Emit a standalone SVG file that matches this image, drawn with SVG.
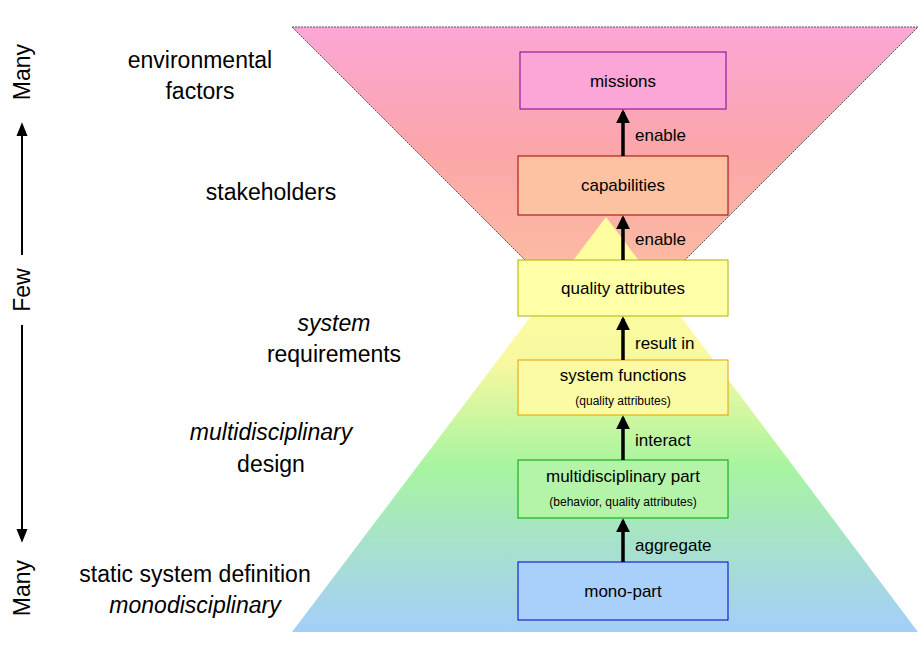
<svg xmlns="http://www.w3.org/2000/svg" width="920" height="660" viewBox="0 0 920 660">
<style>
text{font-family:"Liberation Sans",Arial,sans-serif;fill:#000}
.big{font-size:23px}
.lbl{font-size:17px}
.small{font-size:12px}
.box{stroke-width:1}
.con{stroke:#000;stroke-width:3.5;fill:none;marker-end:url(#ah)}
</style>
<defs>
<marker id="ah" viewBox="0 0 10 10" refX="8" refY="5" markerWidth="4" markerHeight="4" orient="auto"><path d="M0,0L10,5L0,10z" fill="#000"/></marker>
<marker id="ah2" viewBox="0 0 10 10" refX="8" refY="5" markerWidth="7" markerHeight="7" orient="auto"><path d="M0,1L10,5L0,9z" fill="#000"/></marker>
<linearGradient id="gtop" x1="0" y1="0" x2="0" y2="1">
<stop offset="0" stop-color="#fba6d6"/><stop offset="0.4" stop-color="#fba6a8"/><stop offset="1" stop-color="#fdc8a0"/></linearGradient>
<linearGradient id="gbot" x1="0" y1="0" x2="0" y2="1">
<stop offset="0" stop-color="#ffffa0"/><stop offset="0.35" stop-color="#f8f8a0"/><stop offset="0.6" stop-color="#a8f4a0"/><stop offset="1" stop-color="#a4cefa"/></linearGradient>
</defs>
<g id="funnel">
<polygon points="292,27 918,27 605,340" fill="url(#gtop)" stroke="#555" stroke-width="1" stroke-dasharray="2,1"/>
<polygon points="606,217 918,632 292,632" fill="url(#gbot)"/>
</g>
<g id="axis">
<line x1="22" y1="255" x2="22" y2="125" stroke="#000" stroke-width="2" marker-end="url(#ah2)"/>
<line x1="22" y1="325" x2="22" y2="540" stroke="#000" stroke-width="2" marker-end="url(#ah2)"/>
<text class="big" transform="translate(30,72) rotate(-90)" text-anchor="middle">Many</text>
<text class="big" transform="translate(30,290) rotate(-90)" text-anchor="middle">Few</text>
<text class="big" transform="translate(30,588) rotate(-90)" text-anchor="middle">Many</text>
</g>
<g id="levels">
<text class="big" x="200" y="68" text-anchor="middle">environmental</text>
<text class="big" x="200" y="99" text-anchor="middle">factors</text>
<text class="big" x="271" y="200" text-anchor="middle">stakeholders</text>
<text class="big" x="334" y="331" text-anchor="middle" font-style="italic">system</text>
<text class="big" x="334" y="362" text-anchor="middle">requirements</text>
<text class="big" x="271" y="440" text-anchor="middle" font-style="italic">multidisciplinary</text>
<text class="big" x="271" y="472" text-anchor="middle">design</text>
<text class="big" x="195" y="582" text-anchor="middle">static system definition</text>
<text class="big" x="195" y="613" text-anchor="middle" font-style="italic">monodisciplinary</text>
</g>
<g id="missions"><rect class="box" x="520" y="52" width="206" height="57" fill="#fba6d6" stroke="#800090"/><text class="lbl" x="623" y="87" text-anchor="middle">missions</text></g>
<g id="capabilities"><rect class="box" x="518" y="156" width="210" height="59" fill="#fdc2a2" stroke="#a00000"/><text class="lbl" x="623" y="191" text-anchor="middle">capabilities</text></g>
<g id="quality"><rect class="box" x="518" y="260" width="210" height="56" fill="#ffffa8" stroke="#b0b000"/><text class="lbl" x="623" y="294" text-anchor="middle">quality attributes</text></g>
<g id="sysfunc"><rect class="box" x="518" y="360" width="210" height="55" fill="#fbfba6" stroke="#e0a000"/><text class="lbl" x="623" y="381" text-anchor="middle">system functions</text><text class="small" x="623" y="405" text-anchor="middle">(quality attributes)</text></g>
<g id="multipart"><rect class="box" x="518" y="460" width="210" height="58" fill="#b4f4a8" stroke="#00a000"/><text class="lbl" x="623" y="482" text-anchor="middle">multidisciplinary part</text><text class="small" x="623" y="506" text-anchor="middle">(behavior, quality attributes)</text></g>
<g id="monopart"><rect class="box" x="518" y="562" width="210" height="58" fill="#a8d0fa" stroke="#0000c0"/><text class="lbl" x="623" y="597" text-anchor="middle">mono-part</text></g>
<g id="connectors">
<line class="con" x1="623" y1="156" x2="623" y2="112"/>
<line class="con" x1="623" y1="260" x2="623" y2="218"/>
<line class="con" x1="623" y1="360" x2="623" y2="319"/>
<line class="con" x1="623" y1="460" x2="623" y2="418"/>
<line class="con" x1="623" y1="562" x2="623" y2="521"/>
<text class="lbl" x="635" y="141">enable</text>
<text class="lbl" x="635" y="245">enable</text>
<text class="lbl" x="635" y="349">result in</text>
<text class="lbl" x="635" y="446">interact</text>
<text class="lbl" x="635" y="551">aggregate</text>
</g>
</svg>
